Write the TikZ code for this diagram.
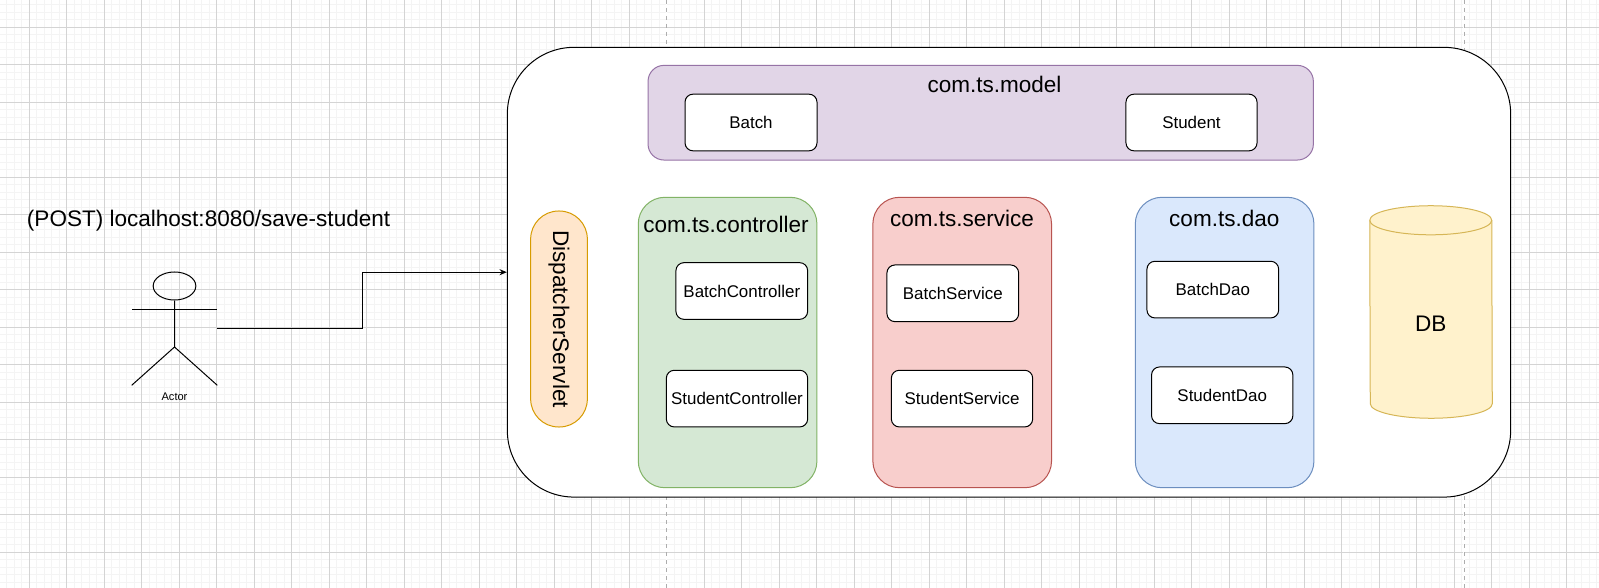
\documentclass[tikz,border=0pt]{standalone}
\usepackage{fontspec}
\setmainfont{Liberation Sans}
\usetikzlibrary{shapes.geometric,arrows.meta}
\definecolor{gridminor}{HTML}{F4F4F4}
\definecolor{gridmajor}{HTML}{D4D4D4}
\definecolor{pagebreak}{HTML}{ADADAD}
\tikzset{
  titletext/.style={anchor=base,inner sep=0pt,font=\fontsize{16.9}{20}\selectfont},
  classbox/.style={draw=black,fill=white,line width=.75pt,rounded corners=6pt,inner sep=0pt,
    minimum height=42.5pt,font=\fontsize{12.7}{15}\selectfont},
  pkgcol/.style={rounded corners=20pt,minimum width=134pt,minimum height=217.8pt,inner sep=0pt,line width=.75pt},
  dbline/.style={draw={rgb,255:red,214;green,182;blue,86},line width=.75pt}
}
\begin{document}
\begin{tikzpicture}[x=.75pt,y=-.75pt]
\useasboundingbox (0,0) rectangle (1599,588);
\fill[white] (0,0) rectangle (1599,588);
% grid
\foreach \i in {0,...,215} \draw[gridminor,line width=.6pt] ({-8.2+7.5*\i},0)--({-8.2+7.5*\i},588);
\foreach \i in {0,...,79} \draw[gridminor,line width=.6pt] (0,{-10.2+7.5*\i})--(1599,{-10.2+7.5*\i});
\foreach \i in {0,...,43} \draw[gridmajor,line width=.6pt] ({-8.2+37.5*\i},0)--({-8.2+37.5*\i},588);
\foreach \i in {0,...,15} \draw[gridmajor,line width=.6pt] (0,{-10.2+37.5*\i})--(1599,{-10.2+37.5*\i});
\draw[white,line width=.9pt] (666.7,0)--(666.7,588) (1464,0)--(1464,588);
\draw[pagebreak,dashed,line width=.75pt] (666.7,0)--(666.7,588) (1464,0)--(1464,588);

% request
\node[titletext,anchor=base west] (url) at (26.7,227) {(POST) localhost:8080/save-student};
\node[minimum width=63.75pt,minimum height=84.75pt,inner sep=0pt] (actor) at (174.5,328.5) {};
\node[ellipse,draw=black,line width=.75pt,minimum width=32pt,minimum height=21pt,inner sep=0pt] (head) at (174.5,286) {};
\coordinate (hip) at (174.5,347);
\draw[line width=.75pt] (head.south)--(hip) (actor.south west)--(hip)--(actor.south east);
\draw[line width=.75pt] (132,309)--(217,309);
\node[inner sep=0pt,font=\fontsize{8.3}{10}\selectfont] (actorname) at (174.5,397) {Actor};

% server
\node[draw=black,fill=white,line width=.75pt,rounded corners=50pt,minimum width=752.5pt,minimum height=337.3pt,inner sep=0pt] (app) at (1009,272.2) {};
\draw[line width=.75pt,-{Stealth[length=5.5pt,width=4.5pt]}] (actor.east)--++(145,0) |- (app.west);

\node[draw={rgb,255:red,215;green,155;blue,0},fill={rgb,255:red,255;green,230;blue,204},rotate=-90,rounded corners=21pt,minimum width=162pt,minimum height=42.5pt,inner sep=0pt,line width=.75pt,font=\fontsize{16.9}{20}\selectfont] (dispatcher) at (559,319) {DispatcherServlet};

\node[draw={rgb,255:red,150;green,115;blue,166},fill={rgb,255:red,225;green,213;blue,231},rounded corners=12pt,minimum width=499pt,minimum height=71pt,inner sep=0pt,line width=.75pt] (model) at (980.7,112.7) {};
\node[titletext] (modeltitle) at (994.5,92.5) {com.ts.model};
\node[classbox,minimum width=99pt] (batch) at (751,122.5) {Batch};
\node[classbox,minimum width=98.3pt] (student) at (1191.5,122.5) {Student};

\node[pkgcol,draw={rgb,255:red,130;green,179;blue,102},fill={rgb,255:red,213;green,232;blue,212}] (controller) at (727.6,342.5) {};
\node[titletext] (controllertitle) at (726,232.3) {com.ts.controller};
\node[classbox,minimum width=98.8pt] (batchcontroller) at (741.8,291) {BatchController};
\node[classbox,minimum width=106pt] (studentcontroller) at (737,398.6) {StudentController};

\node[pkgcol,draw={rgb,255:red,184;green,84;blue,80},fill={rgb,255:red,248;green,206;blue,204}] (service) at (962.2,342.5) {};
\node[titletext] (servicetitle) at (962,226) {com.ts.service};
\node[classbox,minimum width=98.8pt] (batchservice) at (952.8,293.3) {BatchService};
\node[classbox,minimum width=106pt] (studentservice) at (962,398.6) {StudentService};

\node[pkgcol,draw={rgb,255:red,108;green,142;blue,191},fill={rgb,255:red,218;green,232;blue,252}] (dao) at (1224.6,342.5) {};
\node[titletext] (daotitle) at (1224.3,226) {com.ts.dao};
\node[classbox,minimum width=98.8pt] (batchdao) at (1212.8,289.6) {BatchDao};
\node[classbox,minimum width=106pt] (studentdao) at (1222.2,395.3) {StudentDao};

% database
\node[minimum width=91.5pt,minimum height=159pt,inner sep=0pt] (db) at (1431,312) {};
\draw[dbline,fill={rgb,255:red,255;green,242;blue,204}] ([yshift=-10.9pt]db.north west)
  arc[start angle=180,end angle=0,x radius=45.75pt,y radius=10.9pt]
  -- ([yshift=10.9pt]db.south east)
  arc[start angle=0,end angle=-180,x radius=45.75pt,y radius=10.9pt] -- cycle;
\draw[dbline] ([yshift=-10.9pt]db.north west)
  arc[start angle=180,end angle=360,x radius=45.75pt,y radius=10.9pt];
\node[inner sep=0pt,font=\fontsize{16.9}{20}\selectfont] (dbname) at (1430.7,324) {DB};
\end{tikzpicture}
\end{document}
